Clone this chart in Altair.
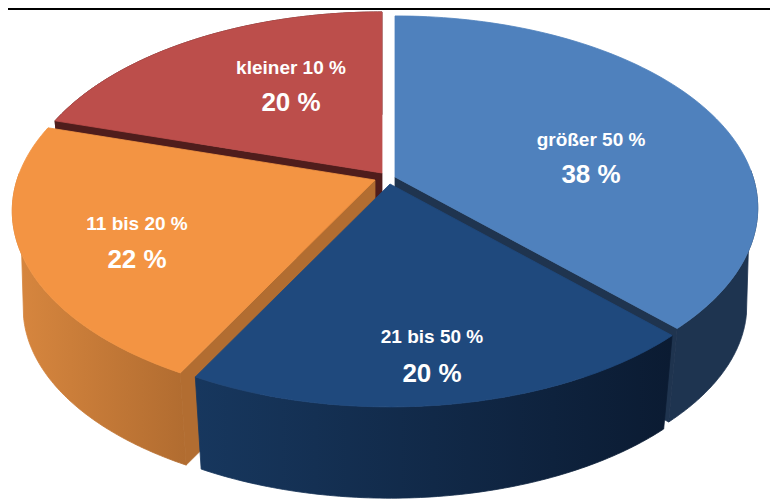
import math
import altair as alt

categories = ["größer 50 %", "21 bis 50 %", "11 bis 20 %", "kleiner 10 %"]
shares = [38, 20, 22, 20]
share_labels = ["38 %", "20 %", "22 %", "20 %"]

# --- style / layout constants -------------------------------------------
W, H = 762, 494
MARGIN = 8
RX, RY, K = 358.0, 187.0, 0.161
DEPTH, SHRINK = 98.0, 0.97
ROT = math.radians(-1.0)
APEX = [(395, 177), (390, 184), (375, 180), (382, 173)]   # exploded apex of each slice (page px)
TOP = ["#4f81bd", "#1f497d", "#f39443", "#bc4e4b"]
CUT = ["#1f344f", "#12294a", "#b26d31", "#4f1d1c"]
WALL = [
    ("#1e3450", "#1e3450"),
    ("#17375e", "#0b1b32"),
    ("#d8873f", "#b16c30"),
    ("#4f1d1c", "#4f1d1c"),
]
LABEL_POS = [(591, 140, 175), (432, 337, 374), (137, 224, 260), (291, 68, 103)]
# silhouette of the side wall: the top rim and the bottom rim are joined by a tangent
WALL_RANGE = {
    0: (math.radians(88), math.radians(102)),
    2: (math.radians(272), math.radians(258)),
}


def face(theta):
    u, v = math.sin(theta), -math.cos(theta)
    d = 1 - K * v
    return RX * u / d, RY * v / d


def top_pt(i, theta):
    x, y = face(theta)
    return [APEX[i][0] + x - MARGIN, APEX[i][1] + y - MARGIN]


def bot_pt(i, theta):
    x, y = face(theta)
    return [APEX[i][0] + SHRINK * x - MARGIN, APEX[i][1] + DEPTH + SHRINK * y - MARGIN]


def arc(fn, i, a, b, n=90):
    return [fn(i, a + (b - a) * j / n) for j in range(n + 1)]


def shape(points, fill, stroke=None):
    feature = {
        "type": "Feature",
        "properties": {},
        "geometry": {"type": "Polygon", "coordinates": [points + [points[0]]]},
    }
    return (
        alt.Chart(alt.Data(values=[feature]))
        .mark_geoshape(fill=fill, stroke=stroke if stroke is not None else fill, strokeWidth=0.8)
        .project(type="identity", scale=1, translate=[0, 0])
    )


def gradient(c0, c1):
    return alt.LinearGradient(
        gradient="linear", x1=0, x2=1, y1=0, y2=0,
        stops=[alt.GradientStop(color=c0, offset=0), alt.GradientStop(color=c1, offset=1)],
    )


# slice boundaries, clockwise from twelve o'clock
total = sum(shares)
bounds, run = [0.0], 0.0
for s in shares[:-1]:
    run += s
    bounds.append(run * 2 * math.pi / total + ROT)
bounds.append(2 * math.pi)
angles = list(zip(bounds[:-1], bounds[1:]))


def slice_layers(i, cut_at):
    a, b = angles[i]
    ax, ay = APEX[i][0] - MARGIN, APEX[i][1] - MARGIN
    layers = []
    if i == 0:
        t, u = WALL_RANGE[0]
        outer = arc(top_pt, i, t, b) + arc(bot_pt, i, u, b)[::-1]
    elif i == 2:
        t, u = WALL_RANGE[2]
        outer = arc(top_pt, i, a, t) + arc(bot_pt, i, a, u)[::-1]
    else:
        outer = arc(top_pt, i, a, b) + arc(bot_pt, i, a, b)[::-1]
    fill = gradient(*WALL[i]) if WALL[i][0] != WALL[i][1] else WALL[i][0]
    layers.append(shape(outer, fill))
    if cut_at is not None:
        cut = [[ax, ay], top_pt(i, cut_at), bot_pt(i, cut_at), [ax, ay + DEPTH]]
        layers.append(shape(cut, CUT[i]))
    layers.append(shape([[ax, ay]] + arc(top_pt, i, a, b), TOP[i]))
    return layers


layers = []
# painter's order: back slices first
layers += slice_layers(3, angles[3][0])
layers += slice_layers(0, angles[0][1])
layers += slice_layers(2, angles[2][0])
layers += slice_layers(1, None)

rows_cat = [
    {"t": c, "x": LABEL_POS[i][0] - MARGIN, "y": LABEL_POS[i][1] - MARGIN}
    for i, c in enumerate(categories)
]
rows_val = [
    {"t": v, "x": LABEL_POS[i][0] - MARGIN, "y": LABEL_POS[i][2] - MARGIN}
    for i, v in enumerate(share_labels)
]
FONT = "Liberation Sans"
enc = dict(
    x=alt.X("x:Q", scale=None, axis=None),
    y=alt.Y("y:Q", scale=None, axis=None),
    text="t:N",
)
cat_text = alt.Chart(alt.Data(values=rows_cat)).mark_text(
    font=FONT, fontSize=19, fontWeight="bold", color="white", baseline="middle", align="center"
).encode(**enc)
val_text = alt.Chart(alt.Data(values=rows_val)).mark_text(
    font=FONT, fontSize=26, fontWeight="bold", color="white", baseline="middle", align="center"
).encode(**enc)

top_line = alt.Chart(alt.Data(values=[{"a": 0}])).mark_rule(color="black", strokeWidth=2).encode(
    x=alt.value(0), x2=alt.value(W), y=alt.value(1)
)

chart = (
    alt.layer(*layers, cat_text, val_text, top_line)
    .properties(width=W, height=H, padding=0, background="white", autosize=alt.AutoSizeParams(type="none"))
    .configure_view(stroke=None)
)

chart.save("out.html", embed_options={"renderer": "svg", "actions": False})
